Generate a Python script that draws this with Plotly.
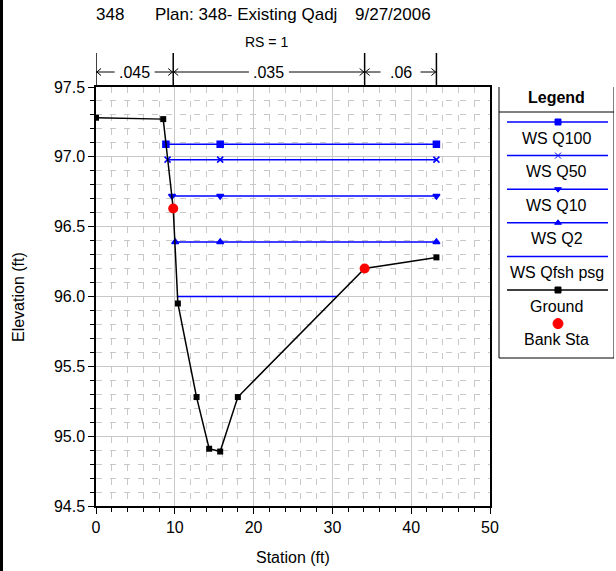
import plotly.graph_objects as go

# ---------------- data ----------------
ground_sta = [0.0, 8.53, 9.8, 10.39, 12.76, 14.36, 15.76, 18.0, 34.09, 43.2]
ground_elev = [97.28, 97.27, 96.63, 95.95, 95.28, 94.91, 94.89, 95.28, 96.20, 96.28]

bank_sta = [9.8, 34.09]
bank_elev = [96.63, 96.20]

ws_names = ["WS Q100", "WS Q50", "WS Q10", "WS Q2", "WS Qfsh psg"]
ws_elev = [97.09, 96.98, 96.72, 96.39, 96.00]
ws_left = [8.87, 9.08, 9.65, 10.05, 10.39]
ws_mid = [15.76, 15.76, 15.76, 15.76, None]
ws_right = [43.2, 43.2, 43.2, 43.2, 30.6]
ws_symbols = ["square", "x-thin", "triangle-down", "triangle-up", None]

n_bounds = [0.0, 9.8, 34.09, 43.2]
n_values = [".045", ".035", ".06"]

x_ticks = [0, 10, 20, 30, 40, 50]
y_ticks = [94.5, 95.0, 95.5, 96.0, 96.5, 97.0, 97.5]

# ---------------- layout geometry ----------------
W, H = 616, 571
ML, MR, MT, MB = 96, 2, 87, 65
PW = W - ML - MR
PH = H - MT - MB
PLOT_RIGHT = 490
XDOM = (PLOT_RIGHT - ML) / PW


def pxx(px):
    return (px - ML) / PW


def pxy(py):
    return (H - MB - py) / PH


FONT = "Liberation Sans, Arial, sans-serif"
BLUE = "#0000ff"
FS = 16

fig = go.Figure()

for i, name in enumerate(ws_names):
    xs = [ws_left[i]] + ([ws_mid[i]] if ws_mid[i] is not None else []) + [ws_right[i]]
    ys = [ws_elev[i]] * len(xs)
    sym = ws_symbols[i]
    if sym is None:
        fig.add_trace(go.Scatter(x=xs, y=ys, mode="lines", line=dict(color=BLUE, width=1.5),
                                 showlegend=False, hoverinfo="skip"))
    else:
        fig.add_trace(go.Scatter(x=xs, y=ys, mode="lines+markers",
                                 line=dict(color=BLUE, width=1.5),
                                 marker=dict(symbol=sym, size=6, color=BLUE,
                                             line=dict(color=BLUE, width=1.5)),
                                 showlegend=False, hoverinfo="skip"))

fig.add_trace(go.Scatter(x=ground_sta, y=ground_elev, mode="lines+markers",
                         line=dict(color="black", width=1.5),
                         marker=dict(symbol="square", size=6, color="black"),
                         showlegend=False))
fig.add_trace(go.Scatter(x=bank_sta, y=bank_elev, mode="markers",
                         marker=dict(symbol="circle", size=10, color="red"),
                         showlegend=False))

# ---------------- manual legend on pixel axes ----------------
LX0, LX1 = 499, 614
LY0, LY1 = 86, 358
leg_line_y0 = 122
leg_step = 33.6
lx_a, lx_b, lx_m = 507, 608, 558
leg_entries = ws_names + ["Ground", "Bank Sta"]
leg_colors = [BLUE] * 5 + ["black", "red"]
leg_syms = ws_symbols + ["square", "circle"]

for i, name in enumerate(leg_entries):
    yl = leg_line_y0 + leg_step * i
    if name != "Bank Sta":
        fig.add_trace(go.Scatter(x=[lx_a, lx_b], y=[yl, yl], mode="lines",
                                 line=dict(color=leg_colors[i], width=1.5),
                                 xaxis="x2", yaxis="y2", showlegend=False, hoverinfo="skip"))
    if leg_syms[i] is not None:
        sz = 10 if name == "Bank Sta" else 6
        fig.add_trace(go.Scatter(x=[lx_m], y=[yl], mode="markers",
                                 marker=dict(symbol=leg_syms[i], size=sz, color=leg_colors[i],
                                             line=dict(color=leg_colors[i], width=1)),
                                 xaxis="x2", yaxis="y2", showlegend=False, hoverinfo="skip",
                                 cliponaxis=False))
    fig.add_annotation(x=(LX0 + LX1) / 2, y=yl + 16, xref="x2", yref="y2", text=name,
                       showarrow=False, font=dict(family=FONT, size=FS, color="black"),
                       xanchor="center", yanchor="middle")

fig.add_annotation(x=(LX0 + LX1) / 2, y=97, xref="x2", yref="y2", text="<b>Legend</b>",
                   showarrow=False, font=dict(family=FONT, size=FS, color="black"),
                   xanchor="center", yanchor="middle")

shapes = []
shapes.append(dict(type="rect", xref="x2", yref="y2", x0=LX0, x1=LX1, y0=LY0, y1=LY1,
                   line=dict(color="black", width=1), layer="below"))
shapes.append(dict(type="line", xref="x2", yref="y2", x0=LX0, x1=LX1, y0=112, y1=112,
                   line=dict(color="black", width=1)))

# left black edge bar
shapes.append(dict(type="rect", xref="paper", yref="paper", x0=pxx(0), x1=pxx(3),
                   y0=pxy(H), y1=pxy(0), fillcolor="black", line=dict(width=0)))

# ---------------- Manning's n bar ----------------
y_vtop = pxy(53)
y_arrow = pxy(72)
ppf = (PLOT_RIGHT - ML) / 50.0
half_gap_px = 20
head_dx = 5 / ppf
head_dy = 3.5 / PH
for b in n_bounds:
    shapes.append(dict(type="line", xref="x", yref="paper", x0=b, x1=b, y0=1.0, y1=y_vtop,
                       line=dict(color="black", width=1.5)))
for i, val in enumerate(n_values):
    a, b = n_bounds[i], n_bounds[i + 1]
    c = (a + b) / 2
    g = half_gap_px / ppf
    shapes.append(dict(type="line", xref="x", yref="paper", x0=a, x1=c - g, y0=y_arrow, y1=y_arrow,
                       line=dict(color="black", width=1)))
    shapes.append(dict(type="line", xref="x", yref="paper", x0=c + g, x1=b, y0=y_arrow, y1=y_arrow,
                       line=dict(color="black", width=1)))
    shapes.append(dict(type="path", xref="x", yref="paper",
                       path=f"M {a + head_dx},{y_arrow + head_dy} L {a + 0.1},{y_arrow} L {a + head_dx},{y_arrow - head_dy}",
                       line=dict(color="black", width=1)))
    shapes.append(dict(type="path", xref="x", yref="paper",
                       path=f"M {b - head_dx},{y_arrow + head_dy} L {b - 0.1},{y_arrow} L {b - head_dx},{y_arrow - head_dy}",
                       line=dict(color="black", width=1)))
    fig.add_annotation(x=c, y=y_arrow, xref="x", yref="paper", text=val, showarrow=False,
                       font=dict(family=FONT, size=16, color="black"),
                       xanchor="center", yanchor="middle")

# ---------------- titles ----------------
title_y = pxy(14)
for txt, cx in [("348", 110), ("Plan: 348- Existing Qadj", 246), ("9/27/2006", 393)]:
    fig.add_annotation(x=pxx(cx), y=title_y, xref="paper", yref="paper", text=txt,
                       showarrow=False, font=dict(family=FONT, size=17, color="black"),
                       xanchor="center", yanchor="middle")
fig.add_annotation(x=pxx(266), y=pxy(42), xref="paper", yref="paper", text="RS = 1",
                   showarrow=False, font=dict(family=FONT, size=14, color="black"),
                   xanchor="center", yanchor="middle")
fig.add_annotation(x=pxx(18), y=pxy(297), xref="paper", yref="paper", text="Elevation (ft)",
                   showarrow=False, textangle=-90, font=dict(family=FONT, size=FS, color="black"),
                   xanchor="center", yanchor="middle")
fig.add_annotation(x=pxx(293), y=pxy(557), xref="paper", yref="paper", text="Station (ft)",
                   showarrow=False, font=dict(family=FONT, size=FS, color="black"),
                   xanchor="center", yanchor="middle")

GRID = "#c8c8c8"
fig.update_layout(
    width=W, height=H,
    autosize=False,
    margin=dict(l=ML, r=MR, t=MT, b=MB, pad=0),
    paper_bgcolor="white", plot_bgcolor="white",
    showlegend=False,
    font=dict(family=FONT, size=FS, color="black"),
    shapes=shapes,
    xaxis=dict(domain=[0, XDOM], range=[0, 50], tickvals=x_ticks, ticktext=[str(v) for v in x_ticks],
               showgrid=True, gridcolor=GRID, gridwidth=1,
               ticks="outside", ticklen=6, tickcolor="black",
               showline=True, linecolor="black", linewidth=1.5, mirror=True,
               zeroline=False, automargin=False,
               minor=dict(dtick=2, showgrid=True, gridcolor=GRID, griddash="6px,8px",
                          ticks="outside", ticklen=4, tickcolor="black"),
               tickfont=dict(family=FONT, size=FS)),
    yaxis=dict(range=[94.5, 97.5], tickvals=y_ticks, ticktext=[f"{v:.1f}" for v in y_ticks],
               showgrid=True, gridcolor=GRID, gridwidth=1,
               ticks="outside", ticklen=6, tickcolor="black",
               showline=True, linecolor="black", linewidth=1.5, mirror=True,
               zeroline=False, automargin=False,
               minor=dict(dtick=0.1, showgrid=True, gridcolor=GRID, griddash="6px,8px",
                          ticks="outside", ticklen=4, tickcolor="black"),
               tickfont=dict(family=FONT, size=FS)),
    xaxis2=dict(domain=[pxx(LX0 - 1), 1.0], range=[LX0 - 1, ML + PW], visible=False,
                anchor="y2", fixedrange=True, automargin=False),
    yaxis2=dict(domain=[0, 1.0], range=[H - MB, MT], visible=False, anchor="x2",
                fixedrange=True, automargin=False),
)

post = ("document.body.style.margin='0';document.body.style.padding='0';"
        "document.body.style.overflow='hidden';")

fig.write_html("out.html", post_script=post, config={"displayModeBar": False})
